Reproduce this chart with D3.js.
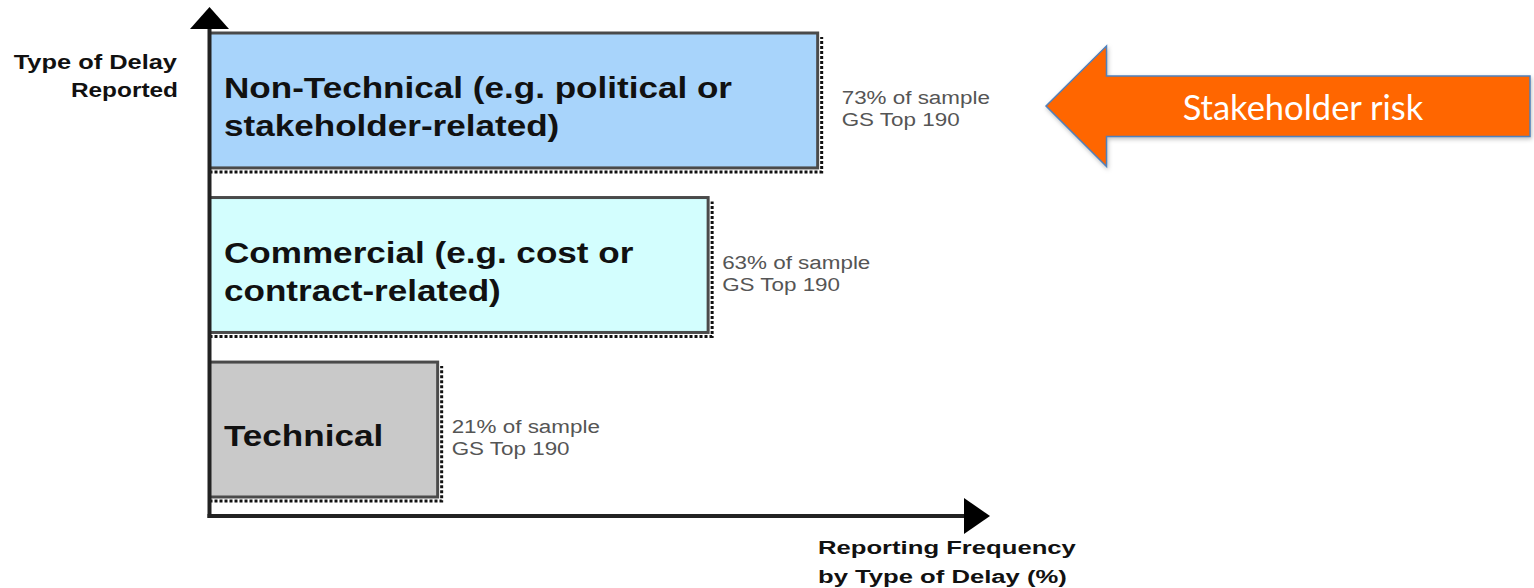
<!DOCTYPE html>
<html>
<head>
<meta charset="utf-8">
<script src="https://cdn.jsdelivr.net/npm/d3@7"></script>
<style>
  html, body { margin: 0; padding: 0; background: #fff; }
  svg { display: block; }
</style>
</head>
<body>
<div class="chart"></div>
<script>
// delay categories, top to bottom
const categories = ["Non-Technical", "Commercial", "Technical"];
const labelLines = [
    ["Non-Technical (e.g. political or", "stakeholder-related)"],
    ["Commercial (e.g. cost or", "contract-related)"],
    ["Technical"]
];
// share of sample reporting this delay (%)
const sharePct = [73, 63, 21];
// bar length as drawn in the source figure (% of the axis length, not to scale)
const drawnLength = [80.5, 66, 30.2];
const sampleNote = "GS Top 190";

const config = {
    width: 1534,
    height: 588,
    x0: 209.5, x1: 965,
    yTop: 33, yBottom: 497,
    axisY: 516
};
const fills = d3.scaleOrdinal().domain(categories).range(["#a8d4fb", "#d3fefe", "#c9c9c9"]);

const svg = d3.select(".chart").append("svg")
    .attr("width", config.width)
    .attr("height", config.height);

const x = d3.scaleLinear().domain([0, 100]).range([config.x0, config.x1]);
const y = d3.scaleBand().domain(categories)
    .range([config.yTop, config.yBottom])
    .paddingInner(0.18).paddingOuter(0);

const data = categories.map((c, i) => ({
    name: c, lines: labelLines[i], pct: sharePct[i], len: drawnLength[i]
}));

// stretched text helper (source glyphs are wider than the font)
function stretchedText(g, str, tx, ty, sx, opts) {
    return g.append("text")
        .attr("transform", `translate(${tx},${ty}) scale(${sx},1)`)
        .attr("font-family", "'Liberation Sans', Arial, sans-serif")
        .attr("font-size", opts.size)
        .attr("font-weight", opts.weight || "normal")
        .attr("fill", opts.fill || "#111")
        .attr("text-anchor", opts.anchor || "start")
        .text(str);
}

// bars
const bar = svg.selectAll("g.bar")
    .data(data)
    .join("g")
    .attr("class", "bar");

bar.append("path")
    .attr("d", d => {
        const r = x(d.len), t = y(d.name), b = y(d.name) + y.bandwidth();
        return `M${config.x0},${b + 4}H${r + 4}V${t + 4}`;
    })
    .attr("fill", "none")
    .attr("stroke", "#111")
    .attr("stroke-width", 3)
    .attr("stroke-dasharray", "3,2");

bar.append("rect")
    .attr("x", config.x0)
    .attr("y", d => y(d.name))
    .attr("width", d => x(d.len) - config.x0)
    .attr("height", y.bandwidth())
    .attr("fill", d => fills(d.name))
    .attr("stroke", "#4a4a4a")
    .attr("stroke-width", 3);

bar.each(function (d, i) {
    const g = d3.select(this);
    const cy = y(d.name) + y.bandwidth() / 2;
    const n = d.lines.length;
    d.lines.forEach((line, k) => {
        stretchedText(g, line, 224, cy + 16.5 + (k - (n - 1) / 2) * 38, 1.17,
            {size: 30, weight: "bold"});
    });
    const gap = i === 0 ? 24 : 14;
    stretchedText(g, `${d.pct}% of sample`, x(d.len) + gap, cy + 3.5, 1.18,
        {size: 19, fill: "#555"});
    stretchedText(g, sampleNote, x(d.len) + gap, cy + 25.5, 1.18,
        {size: 19, fill: "#555"});
});

// axes
svg.append("line")
    .attr("x1", config.x0).attr("x2", config.x0)
    .attr("y1", 28).attr("y2", config.axisY + 2)
    .attr("stroke", "#222").attr("stroke-width", 4);
svg.append("path")
    .attr("d", `M${config.x0 - 19.5},29L${config.x0 + 19.5},29L${config.x0},7Z`)
    .attr("fill", "#000");

svg.append("line")
    .attr("x1", config.x0 - 2).attr("x2", config.x1 + 1)
    .attr("y1", config.axisY).attr("y2", config.axisY)
    .attr("stroke", "#222").attr("stroke-width", 4);
svg.append("path")
    .attr("d", `M${config.x1 - 1},498L${config.x1 - 1},534L${config.x1 + 25},${config.axisY}Z`)
    .attr("fill", "#000");

// axis titles
const titles = svg.append("g");
stretchedText(titles, "Type of Delay", 177, 69, 1.27, {size: 20, weight: "bold", anchor: "end"});
stretchedText(titles, "Reported", 178, 97, 1.22, {size: 20, weight: "bold", anchor: "end"});
stretchedText(titles, "Reporting Frequency", 818, 554, 1.35, {size: 19, weight: "bold"});
stretchedText(titles, "by Type of Delay (%)", 818, 583, 1.35, {size: 19, weight: "bold"});

// callout arrow
const arrow = svg.append("g");
arrow.append("path")
    .attr("d", "M1046,106L1106.5,46L1106.5,76L1530,76L1530,136.5L1106.5,136.5L1106.5,166.5Z")
    .attr("fill", "#ff6600")
    .attr("stroke", "#4f81bd")
    .attr("stroke-width", 1.5)
    .style("filter", "drop-shadow(1px 2px 2px rgba(0,0,0,0.25))");
arrow.append("text")
    .attr("x", 1303)
    .attr("y", 120)
    .attr("text-anchor", "middle")
    .attr("font-family", "Lato, 'Open Sans', sans-serif")
    .attr("font-size", 34.5)
    .attr("fill", "#fff")
    .text("Stakeholder risk");
</script>
</body>
</html>
